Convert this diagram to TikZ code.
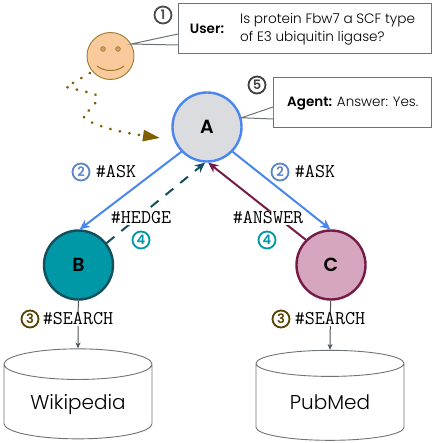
\documentclass[tikz,border=0pt]{standalone}
\usepackage{fontspec}
\setmainfont{Poppins}[UprightFont=* Light,BoldFont=* SemiBold]
\setmonofont{Latin Modern Mono}
\usetikzlibrary{arrows.meta,calc,shapes.geometric}
\definecolor{agentblue}{HTML}{4A86F0}
\definecolor{agentgray}{HTML}{DADCE0}
\definecolor{tealfill}{HTML}{0097A7}
\definecolor{tealdark}{HTML}{134F5C}
\definecolor{plumfill}{HTML}{D5A6BD}
\definecolor{plumdark}{HTML}{741B47}
\definecolor{facefill}{HTML}{F9CB9C}
\definecolor{facedark}{HTML}{9B7A2F}
\definecolor{dotbrown}{HTML}{7F6000}
\definecolor{boxgray}{HTML}{6E7378}
\tikzset{
  agentnode/.style={circle, minimum size=69pt, inner sep=0pt, line width=2.4pt, font=\fontsize{19}{19}\selectfont\bfseries},
  stepmark/.style={circle, draw=#1, text=#1, line width=1.8pt, minimum size=17pt, inner sep=0pt, font=\fontsize{13}{13}\selectfont\bfseries},
  cmdlabel/.style={fill=white, inner sep=1pt, font=\fontsize{19.5}{19.5}\selectfont\ttfamily},
  callout/.style={draw=boxgray, fill=white, line width=1pt, minimum height=50pt, anchor=north west},
  database/.style={cylinder, shape border rotate=90, draw=boxgray, line width=0.9pt, aspect=0.3, minimum width=148pt, minimum height=90pt, text height=14pt, text depth=4pt, font=\fontsize{20}{20}\selectfont},
  conn/.style={line width=2pt},
}
\begin{document}
\begin{tikzpicture}[x=1pt, y=-1pt]
  \useasboundingbox (0,0) rectangle (434,443);
  % callouts
  \node[callout, minimum width=253pt] (userbox) at (178,3) {};
  \node[callout, minimum width=158pt] (agentbox) at (273,77) {};
  % user
  \node[circle, draw=facedark, fill=facefill, line width=0.9pt, minimum size=47pt, inner sep=0pt] (face) at (110.5,56) {};
  \fill[facedark!50!facefill, draw=facedark, line width=0.6pt] (103,49) circle (2.4);
  \fill[facedark!50!facefill, draw=facedark, line width=0.6pt] (118,49) circle (2.4);
  \draw[facedark, line width=1pt] (97,66) .. controls (104,72) and (117,72) .. (124,66);
  \draw[boxgray, fill=white, line width=1pt] ([yshift=20]userbox.south west) -- (face.30) -- ([yshift=9]userbox.south west);
  \node[font=\fontsize{13.5}{13.5}\selectfont\bfseries] (userlabel) at (207,29) {User:};
  \node[anchor=west, align=left, inner sep=0pt, font=\fontsize{13.6}{18}\selectfont] (question) at (240,29) {Is protein Fbw7 a SCF type\\of E3 ubiquitin ligase?};
  % agents
  \node[agentnode, draw=agentblue, fill=agentgray] (A) at (207,127) {A};
  \node[agentnode, draw=tealdark, fill=tealfill] (B) at (78.5,265) {B};
  \node[agentnode, draw=plumdark, fill=plumfill] (C) at (331,265) {C};
  \draw[boxgray, fill=white, line width=1pt] ([yshift=21]agentbox.south west) -- (A.15) -- ([yshift=9]agentbox.south west);
  \node[anchor=west, inner sep=0pt, font=\fontsize{13.5}{13.5}\selectfont] (answer) at (287,104) {\textbf{Agent:} Answer: Yes.};
  % databases
  \node[database] (wiki) at (78,404) {Wikipedia};
  \node[database] (pubmed) at (330,404) {PubMed};
  % dotted path of the question
  \coordinate (dotstart) at (90,73);
  \coordinate (dottip) at (160,138);
  \draw[dotbrown, line width=2.6pt, line cap=round, dash pattern=on 0.5pt off 9.2pt, -{Triangle[length=17pt, width=11pt]}]
    (dotstart) -- (66,87) -- (95,94) .. controls (100,98) and (98,102) .. (83,116)
    .. controls (90,126) and (125,133) .. (dottip);
  % connectors
  \draw[agentblue, conn, -{Stealth[length=10pt, width=9pt, inset=3pt]}] (A.224) -- (B.88);
  \draw[agentblue, conn, -{Stealth[length=10pt, width=9pt, inset=3pt]}] (A.-44) -- (C.91);
  \draw[tealdark, conn, dash pattern=on 10pt off 9pt, -{Stealth[length=10pt, width=9pt, inset=3pt]}] (B.38) -- (A.-93);
  \draw[plumdark, conn, -{Stealth[length=10pt, width=9pt, inset=3pt]}] (C.135) -- (A.-88);
  \draw[boxgray!70!black, line width=1pt, -{Stealth[length=6pt, width=5pt]}] (B) -- (wiki.north);
  \draw[boxgray!70!black, line width=1pt, -{Stealth[length=6pt, width=5pt]}] (C) -- (pubmed.north);
  % labels
  \node[cmdlabel] (askb) at (116,172) {\#ASK};
  \node[cmdlabel] (askc) at (315,172) {\#ASK};
  \node[cmdlabel] (hedge) at (141,218) {\#HEDGE};
  \node[cmdlabel] (ans) at (268,218) {\#ANSWER};
  \node[cmdlabel] (searchb) at (78,319) {\#SEARCH};
  \node[cmdlabel] (searchc) at (330,319) {\#SEARCH};
  % numbers
  \node[stepmark=black!70] (stepa) at (163,15) {1};
  \node[stepmark=agentblue!65!gray] (stepb) at (81,172) {2};
  \node[stepmark=agentblue!65!gray] (stepc) at (280,172) {2};
  \node[stepmark=dotbrown!70!black] (stepd) at (30,319) {3};
  \node[stepmark=dotbrown!70!black] (stepe) at (281,319) {3};
  \node[stepmark=tealfill] (stepf) at (141,240) {4};
  \node[stepmark=tealfill] (stepg) at (267,240) {4};
  \node[stepmark=black!75] (steph) at (257,85) {5};
\end{tikzpicture}
\end{document}
